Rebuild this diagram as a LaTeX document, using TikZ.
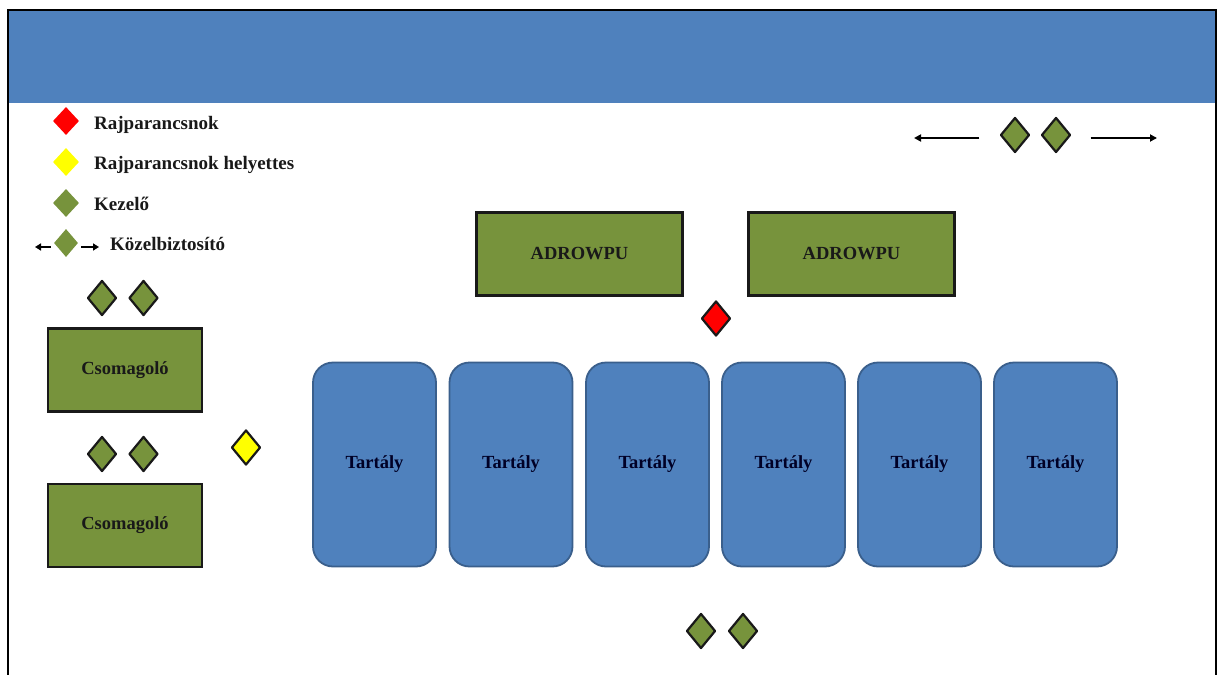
\documentclass[tikz,border=0pt]{standalone}
\usepackage{fontspec}
\setmainfont{Liberation Serif}
\usetikzlibrary{shapes.geometric,arrows.meta}
\definecolor{hdrblue}{HTML}{4F81BD}
\definecolor{tankedge}{HTML}{3A5F8C}
\definecolor{olive}{HTML}{77933C}
\definecolor{cmdred}{HTML}{FF0000}
\definecolor{deputy}{HTML}{FFFF00}
\tikzset{
  lbl/.style={font=\bfseries\fontsize{18.5}{21}\selectfont, text=black!90},
  unitbox/.style={draw=black!90, line width=2.5pt, fill=olive, minimum height=83pt, inner sep=0pt, lbl},
  tank/.style={draw=tankedge, line width=1.8pt, fill=hdrblue, rounded corners=20pt,
    minimum width=123pt, minimum height=204pt, inner sep=0pt, lbl, text=black!85!blue},
  gem/.style={diamond, inner sep=0pt, minimum width=29pt, minimum height=35pt, line join=round},
  crew/.style={gem, draw=black!90, line width=2.2pt, fill=olive},
  keygem/.style={diamond, inner sep=0pt, minimum width=26pt, minimum height=28pt},
  legtext/.style={lbl, font=\bfseries\fontsize{19}{21}\selectfont, anchor=base west, inner sep=0pt},
  outarrow/.style={line width=1.8pt, -{Triangle[length=7pt,width=7pt]}},
}
\begin{document}
\begin{tikzpicture}[x=1pt,y=-1pt]
\useasboundingbox (0,0) rectangle (1222,674);
\fill[white] (0,0) rectangle (1222,674);
% header band and frame
\fill[hdrblue] (8,10) rectangle (1216,103);
\draw[line width=2pt, black] (8,680) -- (8,10) -- (1216,10) -- (1216,680);

% legend
\node[keygem, fill=cmdred] (k1) at (66,121) {};
\node[legtext] (t1) at (94,129) {Rajparancsnok};
\node[keygem, fill=deputy] (k2) at (66,162) {};
\node[legtext] (t2) at (94,169) {Rajparancsnok helyettes};
\node[keygem, fill=olive] (k3) at (66,203) {};
\node[legtext] (t3) at (94,210) {Kezelő};
\node[keygem, fill=olive, minimum width=24pt] (k4) at (66,243) {};
\node[legtext] (t4) at (110,250) {Közelbiztosító};
\coordinate (k4l) at (35,247);
\coordinate (k4r) at (99,247);
\draw[line width=1.6pt, -{Triangle[length=6pt,width=7pt]}] (k4.west |- k4l) ++(-3pt,0) -- (k4l);
\draw[line width=1.6pt, -{Triangle[length=6pt,width=7pt]}] (k4.east |- k4r) ++(3pt,0) -- (k4r);

% top right guards
\node[crew] (g1) at (1015,135) {};
\node[crew] (g2) at (1056,135) {};
\coordinate (gl) at (914,138);
\coordinate (gr) at (1157,138);
\draw[outarrow] (g1.west |- gl) ++(-20pt,0) -- (gl);
\draw[outarrow] (g2.east |- gr) ++(19pt,0) -- (gr);

% ADROWPU units
\node[unitbox, minimum width=206pt] (a1) at (579.5,254) {ADROWPU};
\node[unitbox, minimum width=206pt] (a2) at (851.5,254) {ADROWPU};
\node[gem, draw=black!90, line width=2.2pt, fill=cmdred] (cmd) at (716,318.5) {};

% packers
\node[crew] (p1) at (102,298) {};
\node[crew] (p2) at (143.5,298) {};
\node[unitbox, minimum width=154pt] (c1) at (125,370) {Csomagoló};
\node[crew] (p3) at (102,454) {};
\node[crew] (p4) at (143.5,454) {};
\node[unitbox, minimum width=154pt] (c2) at (125,525.5) {Csomagoló};
\node[gem, draw=black!90, line width=2.2pt, fill=deputy] (dep) at (246,447.5) {};

% tanks
\foreach \i/\x in {1/374.5, 2/511, 3/647.5, 4/783.5, 5/919.5, 6/1055.5} {
  \node[tank] (tk\i) at (\x,464.5) {Tartály};
}

% bottom guards
\node[crew] (b1) at (701,631) {};
\node[crew] (b2) at (743,631) {};
\end{tikzpicture}
\end{document}
